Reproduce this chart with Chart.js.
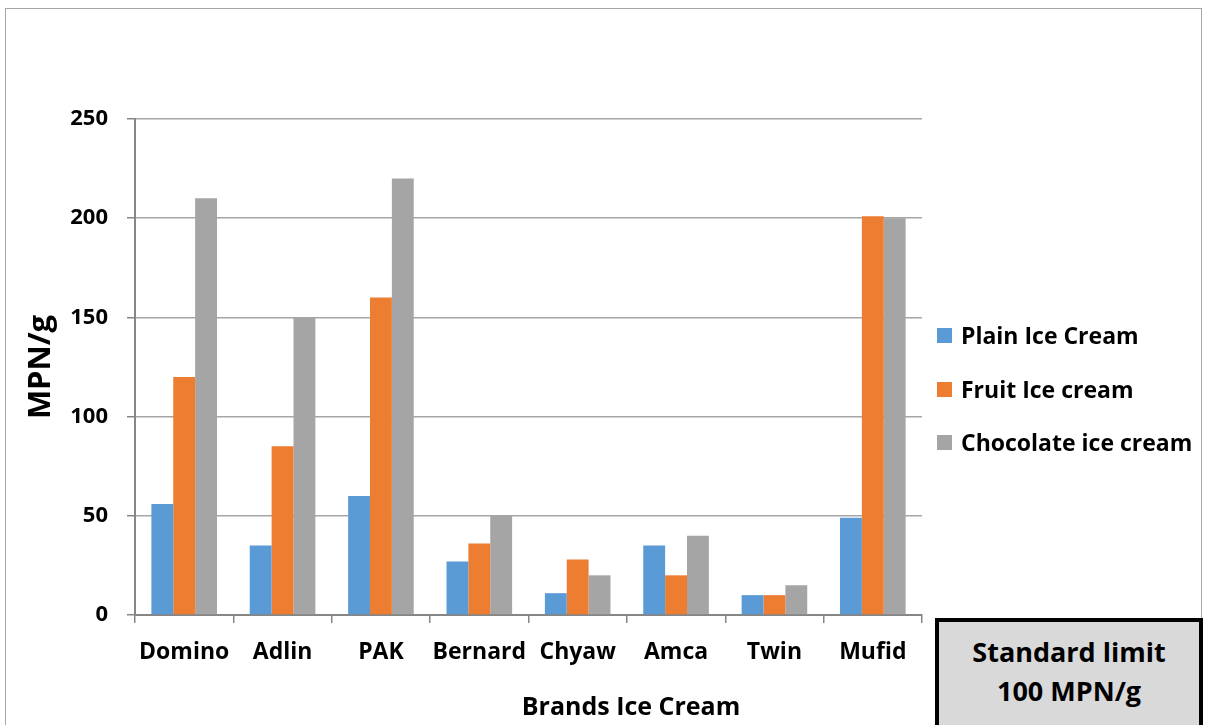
<!DOCTYPE html>
<html lang="en">

<head>
  <meta charset="UTF-8">
  <title>Brands Ice Cream - MPN/g</title>
  <script src="https://cdn.jsdelivr.net/npm/chart.js"></script>
  <style>
    body { margin: 0; background: #fff; overflow: hidden; font-family: 'Open Sans', sans-serif; }
    .frame { position: relative; width: 1208px; height: 725px; }
    .outline { position: absolute; left: 5px; top: 8px; width: 1197px; height: 740px; border: 1.5px solid #a6a6a6; box-sizing: border-box; }
    canvas { position: absolute; left: 0; top: 0; }
    .x-title { position: absolute; left: 431px; width: 400px; top: 688px; text-align: center; font-weight: 700; font-size: 25px; line-height: 34px; }
    .legend-item { position: absolute; left: 937px; height: 30px; display: flex; align-items: center; font-weight: 700; font-size: 23px; white-space: nowrap; }
    .legend-item i { display: inline-block; width: 15px; height: 15px; margin-right: 9px; }
    .limit-box { position: absolute; left: 935px; top: 618px; width: 268px; height: 130px; box-sizing: border-box; border: 4.5px solid #000; background: #d9d9d9; text-align: center; font-weight: 700; font-size: 27px; line-height: 39px; padding-top: 10px; }
  </style>
</head>

<body>
  <div class="frame">
    <div class="outline"></div>
    <canvas id="iceChart" width="1208" height="725"></canvas>
    <div class="x-title">Brands Ice Cream</div>
    <div id="legend"></div>
    <div class="limit-box">Standard limit<br>100 MPN/g</div>
  </div>

  <script>
    const brands = ['Domino', 'Adlin', 'PAK', 'Bernard', 'Chyaw', 'Amca', 'Twin', 'Mufid'];
    const plainIceCream = [56, 35, 60, 27, 11, 35, 10, 49];
    const fruitIceCream = [120, 85, 160, 36, 28, 20, 10, 201];
    const chocolateIceCream = [210, 150, 220, 50, 20, 40, 15, 200];
    const seriesNames = ['Plain Ice Cream', 'Fruit Ice cream', 'Chocolate ice cream'];
    const seriesColors = ['#5b9bd5', '#ed7d31', '#a5a5a5'];
    const yTicks = [0, 50, 100, 150, 200, 250];

    const font = 'Open Sans';
    const series = [plainIceCream, fruitIceCream, chocolateIceCream];

    const chart = new Chart(document.getElementById('iceChart'), {
      type: 'bar',
      data: {
        labels: brands,
        datasets: series.map((vals, i) => ({
          label: seriesNames[i],
          data: vals,
          backgroundColor: seriesColors[i],
          categoryPercentage: 0.667,
          barPercentage: 1
        }))
      },
      options: {
        responsive: false,
        animation: false,
        layout: { padding: { left: 19, top: 119, right: 286, bottom: 0 } },
        plugins: { legend: { display: false }, tooltip: { enabled: false } },
        scales: {
          x: {
            afterFit: s => { s.height = 110; },
            grid: { offset: true, drawOnChartArea: false, color: '#868686', lineWidth: 1.5, tickLength: 8 },
            border: { color: '#868686', width: 2 },
            ticks: { color: '#000', padding: 16, maxRotation: 0, font: { family: font, size: 23, weight: 'bold' } }
          },
          y: {
            min: 0,
            max: 250,
            afterFit: s => { s.width = 116; },
            afterBuildTicks: s => { s.ticks = yTicks.map(v => ({ value: v })); },
            grid: { color: '#a6a6a6', lineWidth: 1.5, tickLength: 8, tickColor: '#868686' },
            border: { color: '#868686', width: 2 },
            ticks: { color: '#000', padding: 19, font: { family: font, size: 22, weight: 'bold' } },
            title: { display: true, text: 'MPN/g', color: '#000', font: { family: font, size: 31, weight: 'bold' } }
          }
        }
      }
    });

    // legend built from the datasets
    const legendTops = [320, 374, 427];
    document.getElementById('legend').innerHTML = chart.data.datasets.map((ds, i) =>
      `<div class="legend-item" style="top:${legendTops[i]}px"><i style="background:${ds.backgroundColor}"></i>${ds.label}</div>`
    ).join('');
  </script>
</body>

</html>
